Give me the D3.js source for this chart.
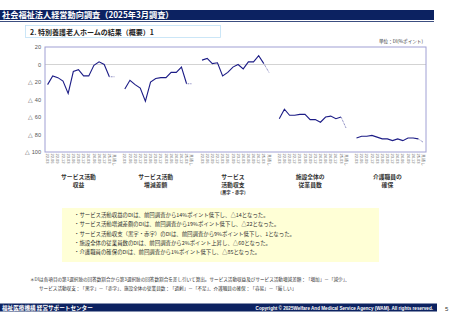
<!DOCTYPE html>
<html>
<head>
<meta charset="utf-8">
<script src="https://cdn.jsdelivr.net/npm/d3@7"></script>
<style>
  body { margin: 0; background: #fff; }
  svg { display: block; font-family: "Noto Sans CJK JP", "Liberation Sans", sans-serif; }
</style>
</head>
<body>
<script>
// group labels (lines)
var groupLabels = [
   ["サービス活動", "収益"],
   ["サービス活動", "増減差額"],
   ["サービス", "活動収支", "(黒字・赤字)"],
   ["施設全体の", "従業員数"],
   ["介護職員の", "確保"]
];
var tickLabels = ["22.03","22.06","22.09","22.12","23.03","23.06","23.09","23.12",
   "24.03","24.06","24.09","24.12","25.03","見通し"];
var yTicks = [20, 0, -20, -40, -60, -80, -100];

// DI values, 13 surveys, then forecast
var revenue     = [-23, -13, -15, -19, -33, -8, -6, -13, -13, -1, 3, 0, -14];
var diffAmount  = [-28, -18, -23, -27, -42, -20, -16, -15, -15, -9, -9, -3, -22];
var balance     = [5, 7, 1, 2, -13, -9, -3, 0, -5, 3, 3, 10, 1];
var staffCount  = [-62, -51, -58, -58, -57, -57, -63, -63, -66, -60, -59, -62, -60];
var careRecruit = [-84, -82, -82, -81, -83, -85, -85, -87, -85, -87, -84, -84, -85];
var forecast    = [-14, -22, -9, -73, -89];

var series = [revenue, diffAmount, balance, staffCount, careRecruit];

var notes = [
   "・サービス活動収益のDIは、前回調査から14%ポイント低下し、△14となった。",
   "・サービス活動増減差額のDIは、前回調査から19%ポイント低下し、△22となった。",
   "・サービス活動収支（黒字・赤字）のDIは、前回調査から9%ポイント低下し、1となった。",
   "・施設全体の従業員数のDIは、前回調査から2%ポイント上昇し、△60となった。",
   "・介護職員の確保のDIは、前回調査から1%ポイント低下し、△85となった。"
];

var W = 453, H = 320;
var svg = d3.select("body").append("svg").attr("width", W).attr("height", H);

// header
svg.append("rect").attr("x", 0).attr("y", 10).attr("width", 434).attr("height", 10).style("fill", "#0c2261");
svg.append("rect").attr("x", 0).attr("y", 21).attr("width", 434).attr("height", 0.8).style("fill", "#0c2261");
svg.append("text").attr("x", 2).attr("y", 18.4).text("社会福祉法人経営動向調査（2025年3月調査）")
   .style("fill", "#fff").style("font-size", "8.2px").style("font-weight", "bold");

// subtitle box
svg.append("rect").attr("x", 25.5).attr("y", 25.5).attr("width", 195).attr("height", 12)
   .style("fill", "#fff").style("stroke", "#bfe0f5").style("stroke-width", 0.8);
svg.append("text").attr("x", 30).attr("y", 34.5).text("2. 特別養護老人ホームの結果（概要）1")
   .style("fill", "#222").style("font-size", "7px").style("font-weight", "bold");

svg.append("text").attr("x", 423).attr("y", 43).attr("text-anchor", "end").text("単位：DI(%ポイント)")
   .style("fill", "#333").style("font-size", "4.6px");

// chart
var plotL = 45, plotR = 426, plotT = 47, plotB = 152;
var slots = [];
series.forEach(function (s, g) {
   for (var i = 0; i < tickLabels.length; i++) slots.push(g + "-" + i);
   if (g < series.length - 1) slots.push("gap" + g);
});
var x = d3.scaleBand().domain(slots).range([plotL, plotR]);
var y = d3.scaleLinear().domain([-100, 20]).range([plotB, plotT]);
function cx(g, i) { return x(g + "-" + i) + x.bandwidth() / 2; }

// zero line
svg.append("line").attr("x1", plotL).attr("x2", plotR).attr("y1", y(0)).attr("y2", y(0))
   .style("stroke", "#c8c8c8").style("stroke-width", 0.8);

// y axis
var yAxis = svg.append("g").attr("transform", "translate(" + plotL + ",0)")
   .call(d3.axisLeft(y).tickValues(yTicks).tickSize(0).tickPadding(4)
      .tickFormat(function (v) { return v < 0 ? "△ " + (-v) : v; }));
yAxis.select(".domain").remove();
yAxis.selectAll("text").style("font-size", "5.6px").style("fill", "#555")
   .style("font-family", "Liberation Sans, sans-serif");

// plot frame
svg.append("rect").attr("x", plotL).attr("y", plotT).attr("width", plotR - plotL).attr("height", plotB - plotT)
   .style("fill", "none").style("stroke", "#a0a0d4").style("stroke-width", 1);

var line = d3.line().x(function (d) { return d.x; }).y(function (d) { return y(d.v); });

series.forEach(function (s, g) {
   var pts = s.map(function (v, i) { return {x: cx(g, i), v: v}; });
   svg.append("path").attr("d", line(pts))
      .style("fill", "none").style("stroke", "#1c1c86").style("stroke-width", 1.1);
   var last = pts[pts.length - 1];
   svg.append("path").attr("d", line([last, {x: cx(g, s.length), v: forecast[g]}]))
      .style("fill", "none").style("stroke", "#6a6ab0").style("stroke-width", 1)
      .style("stroke-dasharray", "0.8,0.8");

   // tick labels
   tickLabels.forEach(function (t, i) {
      svg.append("text")
         .attr("transform", "translate(" + (cx(g, i) - 1.4) + "," + (plotB + 1.5) + ") rotate(90)")
         .text(t)
         .style("font-size", "4px").style("fill", "#666")
         .style("font-family", "Liberation Sans, sans-serif");
   });

   // group label
   var gx = (cx(g, 0) + cx(g, s.length - 1)) / 2;
   groupLabels[g].forEach(function (l, k) {
      var small = k === 2;
      svg.append("text").attr("x", gx).attr("y", 179 + k * 8 - (small ? 1 : 0))
         .attr("text-anchor", "middle").text(l)
         .style("font-size", small ? "4.4px" : "5.8px").style("fill", "#333").style("font-weight", "bold");
   });
});

// notes box
svg.append("rect").attr("x", 62).attr("y", 208).attr("width", 317).attr("height", 54).style("fill", "#ffffd6");
notes.forEach(function (n, i) {
   svg.append("text").attr("x", 74).attr("y", 217 + i * 9.3).text(n)
      .style("font-size", "5.4px").style("fill", "#333");
});

// footnote
svg.append("text").attr("x", 30).attr("y", 281)
   .text("＊DIは各項目の第1選択肢の回答数割合から第3選択肢の回答数割合を差し引いて算出。サービス活動収益及びサービス活動増減差額：「増加」－「減少」、")
   .style("font-size", "4.6px").style("fill", "#333");
svg.append("text").attr("x", 39).attr("y", 290)
   .text("サービス活動収支：「黒字」－「赤字」、施設全体の従業員数：「過剰」－「不足」、介護職員の確保：「容易」－「厳しい」")
   .style("font-size", "4.6px").style("fill", "#333");

// footer
svg.append("rect").attr("x", 0).attr("y", 303.5).attr("width", 437).attr("height", 8).style("fill", "#0c2261");
svg.append("text").attr("x", 2).attr("y", 309.7).text("福祉医療機構 経営サポートセンター")
   .style("fill", "#fff").style("font-size", "5.6px").style("font-weight", "bold");
svg.append("text").attr("x", 433).attr("y", 309.5).attr("text-anchor", "end")
   .text("Copyright © 2025Welfare And Medical Service Agency (WAM). All rights reserved.")
   .style("fill", "#fff").style("font-size", "4.6px").style("font-weight", "bold")
   .style("font-family", "Liberation Sans, sans-serif");
svg.append("text").attr("x", 445).attr("y", 311).text("5")
   .style("fill", "#333").style("font-size", "6px").style("font-family", "Liberation Sans, sans-serif");
</script>
</body>
</html>
